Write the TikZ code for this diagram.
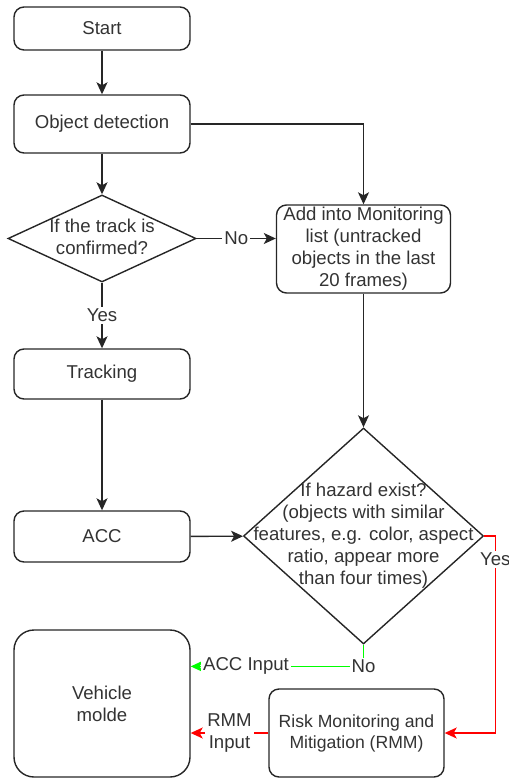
\documentclass[tikz,border=0pt]{standalone}
\usepackage{fontspec}
\setmainfont{Liberation Sans}
\usetikzlibrary{shapes.geometric,arrows.meta,calc}
\newcommand{\dtext}[1]{\makebox[0pt]{\smash{\raisebox{-.25em}{\begin{tabular}{@{}c@{}}#1\end{tabular}}}}}

\begin{document}
\begin{tikzpicture}[x=0.5pt,y=-0.5pt,
    font=\fontsize{9.3}{11}\selectfont, text=black!80,
    box/.style={rectangle, draw=black!85, rounded corners=5pt, line width=0.7pt, align=center, inner sep=0pt, minimum width=88pt},
    dec/.style={diamond, draw=black!85, line width=0.7pt, inner sep=0pt},
    arr/.style={-{Stealth[length=6pt,width=5.5pt,inset=1.5pt]}, line width=0.7pt, draw=black!85},
    lbl/.style={fill=white, inner sep=1pt, align=center, text=black!80}]
        \useasboundingbox (0,0) rectangle (508,779);

        \node[box, minimum height=21.5pt] (start) at (102,28.5) {Start};
        \node[box, minimum height=29pt] (det) at (102,124) {Object detection};
        \node[dec, minimum width=94pt, minimum height=43.5pt] (conf) at (102,238.5) {\dtext{If the track is\\confirmed?}};
        \node[box, minimum width=87pt, minimum height=44pt] (add) at (363.5,249) {Add into Monitoring\\list (untracked\\objects in the last\\20 frames)};
        \node[box, minimum height=25pt] (trk) at (102,374) {Tracking};
        \node[box, minimum height=25.5pt] (acc) at (102,536.5) {ACC};
        \node[dec, minimum width=120pt, minimum height=108pt] (haz) at (363.5,536) {\dtext{If hazard exist?\\(objects with similar\\features, e.g. color, aspect\\ratio, appear more\\than four times)}};
        \node[box, rounded corners=10pt, minimum height=73.5pt] (veh) at (102,703.5) {Vehicle\\molde};
        \node[box, minimum width=87.5pt, minimum height=44pt, font=\fontsize{8.8}{10.5}\selectfont] (rmm) at (356.5,733) {Risk Monitoring and\\Mitigation (RMM)};

        \draw[arr] (start) -- (det);
        \draw[arr] (det.east) -| (add.north);
        \draw[arr] (det) -- (conf);
        \draw[arr] (conf.east) -- node[lbl] {No} (conf.east -| add.west);
        \draw[arr] (conf) -- node[lbl] {Yes} (trk);
        \draw[arr] (trk) -- (acc);
        \draw[arr] (add) -- (haz);
        \draw[arr] (acc) -- (haz);
        \draw[arr, draw=green] (haz.south) |- node[lbl, pos=0.5] {No} node[lbl, pos=0.84] {ACC Input} ($(veh.north east)!0.25!(veh.south east)$);
        \draw[arr, draw=red] (haz.east) -- ++(11,0) |- node[lbl, pos=0.06] {Yes} (rmm.east);
        \draw[arr, draw=red] (rmm.west) -- node[lbl] {RMM\\Input} (rmm.west -| veh.east);
\end{tikzpicture}
\end{document}
